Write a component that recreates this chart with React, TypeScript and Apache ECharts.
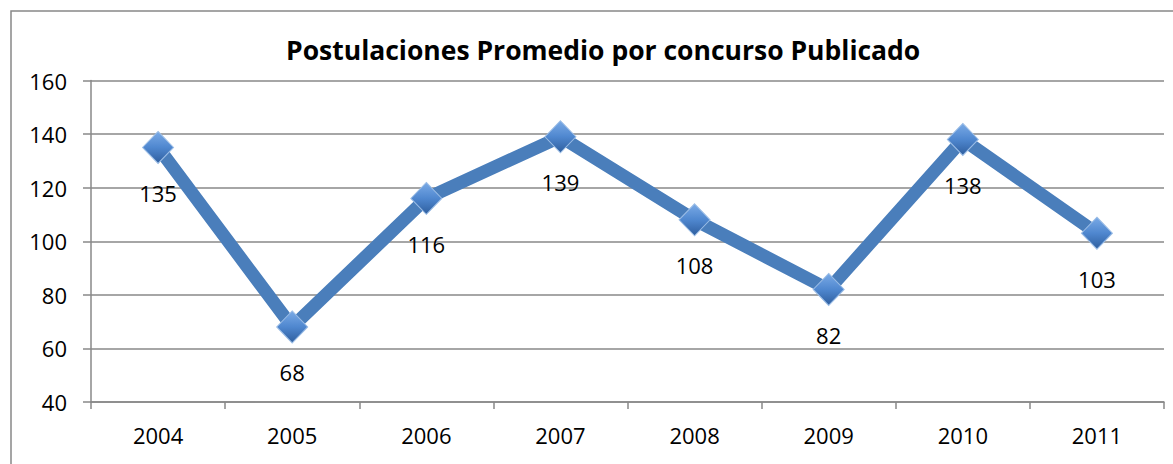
import React, { useEffect, useRef } from "react";
import * as echarts from "echarts";

const titleText = "Postulaciones Promedio por concurso Publicado";
const years = ["2004", "2005", "2006", "2007", "2008", "2009", "2010", "2011"];
const values = [135, 68, 116, 139, 108, 82, 138, 103];
const yMin = 40;
const yMax = 160;
const yStep = 20;

const FONT = "'Open Sans', 'Noto Sans', sans-serif";
const GRAY = "#888888";

export default function App() {
  const ref = useRef<HTMLDivElement>(null);
  useEffect(() => {
    if (!ref.current) return;
    const chart = echarts.init(ref.current, null, { renderer: "svg" });
    chart.setOption({
      animation: false,
      backgroundColor: "#ffffff",
      title: {
        text: titleText,
        left: 281,
        top: 31,
        textStyle: { fontFamily: FONT, fontSize: 26.5, fontWeight: "bold", color: "#000" },
      },
      graphic: [
        {
          type: "rect",
          shape: { x: 11, y: 11, width: 1300, height: 600 },
          style: { fill: "none", stroke: GRAY, lineWidth: 1.5 },
          silent: true,
        },
      ],
      grid: { left: 91, right: 9, top: 80.5, bottom: 62, containLabel: false },
      xAxis: {
        type: "category",
        data: years,
        boundaryGap: true,
        axisLine: { show: true, lineStyle: { color: GRAY, width: 1.5 } },
        axisTick: { show: true, length: 7, lineStyle: { color: GRAY, width: 1.5 } },
        axisLabel: { fontFamily: FONT, fontSize: 22, color: "#000", margin: 22 },
        splitLine: { show: false },
      },
      yAxis: {
        type: "value",
        min: yMin,
        max: yMax,
        interval: yStep,
        axisLine: { show: true, lineStyle: { color: GRAY, width: 1.5 } },
        axisTick: { show: true, length: 8, lineStyle: { color: GRAY, width: 1.5 } },
        axisLabel: { fontFamily: FONT, fontSize: 22, color: "#000", margin: 24 },
        splitLine: { show: true, lineStyle: { color: GRAY, width: 1.5 } },
      },
      series: [
        {
          type: "line",
          data: values,
          lineStyle: { color: "#4A7EBB", width: 13, cap: "butt", join: "miter" },
          symbol: "diamond",
          symbolSize: [31, 32],
          itemStyle: {
            color: new echarts.graphic.LinearGradient(0, 0, 0, 1, [
              { offset: 0, color: "#7AAAE6" },
              { offset: 0.5, color: "#4F87CF" },
              { offset: 1, color: "#2E5E9E" },
            ]),
            borderColor: "#9BBDE6",
            borderWidth: 1,
          },
          label: {
            show: true,
            position: "bottom",
            distance: 18,
            fontFamily: FONT,
            fontSize: 22,
            color: "#000",
          },
        },
      ],
    });
    return () => chart.dispose();
  }, []);
  return (
    <div
      ref={ref}
      style={{ position: "fixed", left: 0, top: 0, width: 1173, height: 464 }}
    />
  );
}
